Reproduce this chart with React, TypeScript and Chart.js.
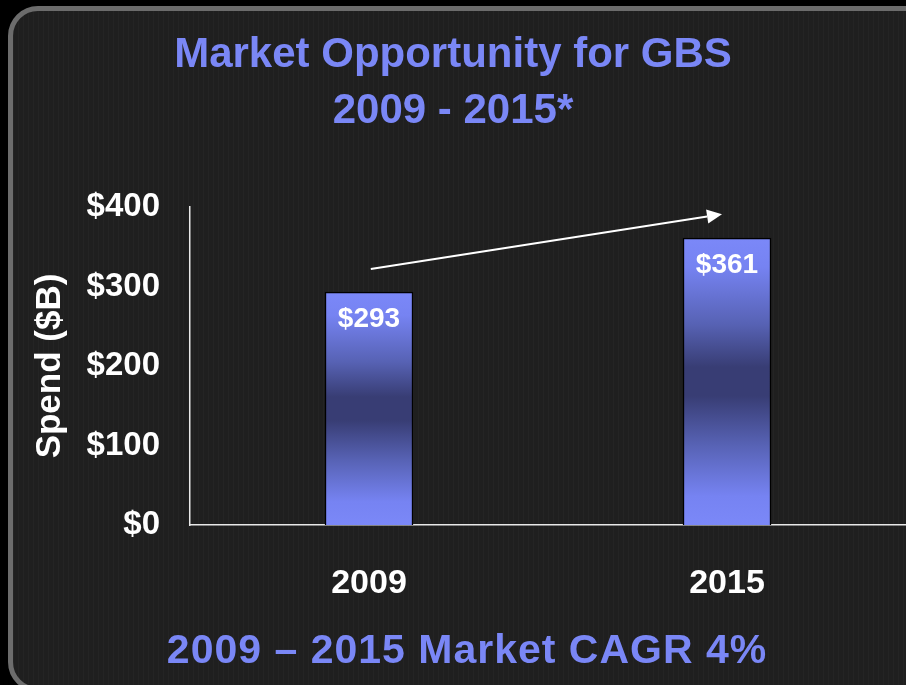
import { useEffect, useRef } from "react";
import { Chart, registerables } from "chart.js";

Chart.register(...registerables);

const categories = ["2009", "2015"];
const spend = [293, 361];
const barLabels = ["$293", "$361"];
const yTickValues = [0, 100, 200, 300, 400];
const titleLines = ["Market Opportunity for GBS", "2009 - 2015*"];
const yAxisTitle = "Spend ($B)";
const footnote = "2009 – 2015 Market CAGR 4%";
// arrow endpoints: [category position, value in $B]
const arrowFrom = [0.005, 322];
const arrowTo = [0.986, 391];

const FONT = "'Liberation Sans', Arial, sans-serif";
const BLUE = "#7a87f6";

const barGradient = (ctx: any) => {
  const chart = ctx.chart;
  if (!chart.chartArea || ctx.type !== "data") return BLUE;
  const y = chart.scales.y;
  const top = y.getPixelForValue(ctx.raw);
  const base = y.getPixelForValue(0);
  const g = chart.ctx.createLinearGradient(0, top, 0, base);
  g.addColorStop(0, "#7b88f8");
  g.addColorStop(0.1, "#7683f2");
  g.addColorStop(0.3, "#5762b4");
  g.addColorStop(0.45, "#383d74");
  g.addColorStop(0.55, "#383d74");
  g.addColorStop(0.72, "#5762b4");
  g.addColorStop(0.9, "#7683f2");
  g.addColorStop(1, "#7b88f8");
  return g;
};

const labelPlugin = {
  id: "barLabels",
  afterDatasetsDraw(chart: any) {
    const { ctx } = chart;
    const meta = chart.getDatasetMeta(0);
    ctx.save();
    ctx.fillStyle = "#ffffff";
    ctx.font = `bold 28px ${FONT}`;
    ctx.textAlign = "center";
    ctx.textBaseline = "middle";
    meta.data.forEach((el: any, i: number) => {
      ctx.fillText(barLabels[i], el.x, el.y + 27);
    });
    ctx.restore();
  },
};

const arrowPlugin = {
  id: "arrow",
  afterDatasetsDraw(chart: any) {
    const { ctx, scales } = chart;
    const x0 = scales.x.getPixelForValue(arrowFrom[0]);
    const y0 = scales.y.getPixelForValue(arrowFrom[1]);
    const x1 = scales.x.getPixelForValue(arrowTo[0]);
    const y1 = scales.y.getPixelForValue(arrowTo[1]);
    const ang = Math.atan2(y1 - y0, x1 - x0);
    const headLen = 15;
    const headW = 7;
    const bx = x1 - headLen * Math.cos(ang);
    const by = y1 - headLen * Math.sin(ang);
    ctx.save();
    ctx.strokeStyle = "#ffffff";
    ctx.fillStyle = "#ffffff";
    ctx.lineWidth = 2;
    ctx.beginPath();
    ctx.moveTo(x0, y0);
    ctx.lineTo(bx, by);
    ctx.stroke();
    ctx.beginPath();
    ctx.moveTo(x1, y1);
    ctx.lineTo(bx + headW * Math.sin(ang), by - headW * Math.cos(ang));
    ctx.lineTo(bx - headW * Math.sin(ang), by + headW * Math.cos(ang));
    ctx.closePath();
    ctx.fill();
    ctx.restore();
  },
};

const footnotePlugin = {
  id: "footnote",
  afterDraw(chart: any) {
    const { ctx } = chart;
    ctx.save();
    ctx.fillStyle = BLUE;
    ctx.font = `bold 41px ${FONT}`;
    (ctx as any).letterSpacing = "1px";
    ctx.textAlign = "center";
    ctx.textBaseline = "middle";
    ctx.fillText(footnote, 467, 652);
    ctx.restore();
  },
};

export default function App() {
  const ref = useRef<HTMLCanvasElement | null>(null);

  useEffect(() => {
    if (!ref.current) return;
    const chart = new Chart(ref.current, {
      type: "bar",
      data: {
        labels: categories,
        datasets: [
          {
            data: spend,
            backgroundColor: barGradient,
            borderColor: "#000000",
            borderWidth: 1.5,
            barThickness: 88,
          },
        ],
      },
      options: {
        responsive: false,
        animation: false,
        devicePixelRatio: 1,
        layout: { padding: 0 },
        plugins: {
          legend: { display: false },
          tooltip: { enabled: false },
          title: {
            display: true,
            text: titleLines,
            color: BLUE,
            font: { family: FONT, size: 42, weight: "bold", lineHeight: 56 / 42 },
            padding: { top: 27, bottom: 68 },
          },
        },
        scales: {
          x: {
            type: "category",
            grid: { display: false, drawTicks: false },
            border: { display: true, color: "#e8e8e8", width: 1.5 },
            ticks: {
              color: "#ffffff",
              font: { family: FONT, size: 34, weight: "bold" },
              padding: 38,
            },
            afterFit: (s: any) => {
              s.height = 160;
            },
          },
          y: {
            min: 0,
            max: 400,
            afterBuildTicks: (s: any) => {
              s.ticks = yTickValues.map((v) => ({ value: v }));
            },
            grid: { display: false, drawTicks: false },
            border: { display: true, color: "#e8e8e8", width: 1.5 },
            ticks: {
              color: "#ffffff",
              font: { family: FONT, size: 33, weight: "bold" },
              padding: 30,
              callback: (v: any) => "$" + v,
            },
            title: {
              display: true,
              text: yAxisTitle,
              color: "#ffffff",
              font: { family: FONT, size: 35, weight: "bold" },
              padding: { top: 29, bottom: 0 },
            },
            afterFit: (s: any) => {
              s.width = 190;
            },
          },
        },
      },
      plugins: [labelPlugin, arrowPlugin, footnotePlugin],
    });
    return () => chart.destroy();
  }, []);

  return (
    <div
      style={{
        position: "fixed",
        inset: 0,
        background: "#000000",
        overflow: "hidden",
      }}
    >
      <div
        style={{
          position: "absolute",
          left: 8,
          top: 6,
          width: 930,
          height: 686,
          boxSizing: "border-box",
          border: "5px solid #6c6c6c",
          borderRadius: 30,
          background:
            "repeating-linear-gradient(90deg, rgba(255,255,255,0.022) 0px, rgba(255,255,255,0.022) 1px, rgba(0,0,0,0) 1px, rgba(0,0,0,0) 5px), #1f1f1f",
        }}
      />
      <canvas
        ref={ref}
        width={906}
        height={685}
        style={{ position: "absolute", left: 0, top: 0, width: 906, height: 685 }}
      />
    </div>
  );
}
